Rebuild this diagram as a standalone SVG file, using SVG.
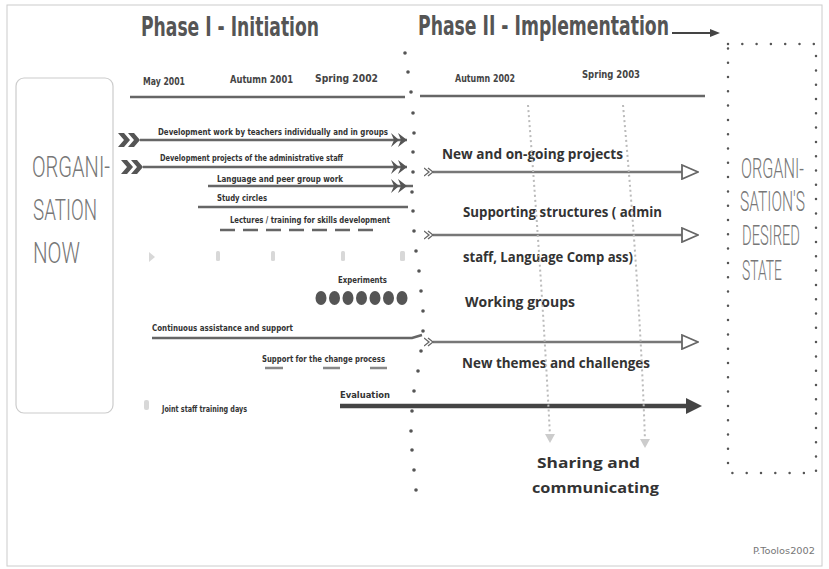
<svg xmlns="http://www.w3.org/2000/svg" width="829" height="569" viewBox="0 0 829 569">
<defs>
<style>
.hdr{font-family:'DejaVu Sans Condensed','DejaVu Sans',sans-serif;font-weight:bold;font-size:27px;fill:#555}
.date{font-family:'DejaVu Sans Condensed','DejaVu Sans',sans-serif;font-weight:bold;font-size:11px;fill:#444}
.sm{font-family:'DejaVu Sans Condensed','DejaVu Sans',sans-serif;font-weight:bold;font-size:9px;fill:#333}
.big{font-family:'Open Sans','DejaVu Sans',sans-serif;font-weight:bold;font-size:15px;fill:#333}
.org{font-family:Roboto,'DejaVu Sans',sans-serif;font-weight:300;font-size:29px;fill:#777}
.org2{font-family:Roboto,'DejaVu Sans',sans-serif;font-weight:300;font-size:15px;fill:#777}
.sig{font-family:'DejaVu Sans Condensed','DejaVu Sans',sans-serif;font-size:9px;fill:#777}
.bar{stroke:#666;stroke-width:2.5;fill:none}
.rbar{stroke:#777;stroke-width:2.5;fill:none}
.gcurve{stroke:#bbb;stroke-width:2;fill:none;stroke-dasharray:2 3}
.faint{fill:#d8d8d8}
.dot{fill:#555}
</style>
<marker id="fl" viewBox="0 0 22 14" refX="22" refY="7" markerWidth="22" markerHeight="14" markerUnits="userSpaceOnUse" orient="auto">
<path d="M0,0 L6,0 L12,7 L6,14 L0,14 L6,7 Z M10,0 L16,0 L22,7 L16,14 L10,14 L16,7 Z" fill="#555"/>
</marker>
<marker id="dbl" viewBox="0 0 16 14" refX="16" refY="7" markerWidth="16" markerHeight="14" markerUnits="userSpaceOnUse" orient="auto">
<path d="M0,0 L8,7 L0,14 L3,7 Z M7,0 L16,7 L7,14 L10,7 Z" fill="#555"/>
</marker>
<marker id="fl2" viewBox="0 0 10 10" refX="9" refY="5" markerWidth="10" markerHeight="10" markerUnits="userSpaceOnUse" orient="auto">
<path d="M0,1 L5,5 L0,9 M4,1 L9,5 L4,9" fill="none" stroke="#666" stroke-width="1.3"/>
</marker>
<marker id="tri" viewBox="0 0 18 16" refX="1" refY="8" markerWidth="18" markerHeight="16" markerUnits="userSpaceOnUse" orient="auto">
<path d="M1,1 L17,8 L1,15 Z" fill="#fff" stroke="#666" stroke-width="1.8"/>
</marker>
<marker id="bigA" viewBox="0 0 16 16" refX="1" refY="8" markerWidth="16" markerHeight="16" markerUnits="userSpaceOnUse" orient="auto">
<path d="M0,0 L16,8 L0,16 Z" fill="#444"/>
</marker>
<marker id="smA" viewBox="0 0 10 8" refX="1" refY="4" markerWidth="10" markerHeight="8" markerUnits="userSpaceOnUse" orient="auto">
<path d="M0,0 L10,4 L0,8 Z" fill="#444"/>
</marker>
<marker id="gA" viewBox="0 0 10 10" refX="5" refY="2" markerWidth="10" markerHeight="10" markerUnits="userSpaceOnUse" orient="0">
<path d="M0,0 L10,0 L5,9 Z" fill="#ccc"/>
</marker>
</defs>
<rect width="829" height="569" fill="#fff"/>
<rect x="7" y="5" width="815" height="561" fill="none" stroke="#ccc" stroke-width="1"/>

<g id="header-phase1"><text class="hdr" x="141" y="36" textLength="178" lengthAdjust="spacingAndGlyphs">Phase I - Initiation</text></g>
<g id="header-phase2"><text class="hdr" x="418" y="35" textLength="251" lengthAdjust="spacingAndGlyphs">Phase II - Implementation</text></g>

<g id="dates">
<text class="date" x="143" y="85" textLength="42" lengthAdjust="spacingAndGlyphs">May 2001</text>
<text class="date" x="230" y="83" textLength="63" lengthAdjust="spacingAndGlyphs">Autumn 2001</text>
<text class="date" x="315" y="82" textLength="63" lengthAdjust="spacingAndGlyphs">Spring 2002</text>
<text class="date" x="455" y="82" textLength="60" lengthAdjust="spacingAndGlyphs">Autumn 2002</text>
<text class="date" x="582" y="78" textLength="58" lengthAdjust="spacingAndGlyphs">Spring 2003</text>
</g>

<g id="org-now">
<rect x="16" y="78" width="97" height="335" rx="8" fill="none" stroke="#ccc" stroke-width="1.2"/>
<text class="org" x="32" y="177" textLength="78" lengthAdjust="spacingAndGlyphs">ORGANI-</text>
<text class="org" x="33" y="220" textLength="64" lengthAdjust="spacingAndGlyphs">SATION</text>
<text class="org" x="33" y="263" textLength="47" lengthAdjust="spacingAndGlyphs">NOW</text>
</g>

<g id="org-desired">
<rect x="728" y="44" width="88" height="429" fill="none" stroke="#555" stroke-width="2.5" stroke-linecap="round" stroke-dasharray="0 14.3"/>
<text class="org2" transform="translate(741,178) scale(1,1.85)" x="0" y="0" textLength="63" lengthAdjust="spacingAndGlyphs">ORGANI-</text>
<text class="org2" transform="translate(740,211) scale(1,1.85)" x="0" y="0" textLength="65" lengthAdjust="spacingAndGlyphs">SATION'S</text>
<text class="org2" transform="translate(742,245) scale(1,1.85)" x="0" y="0" textLength="58" lengthAdjust="spacingAndGlyphs">DESIRED</text>
<text class="org2" transform="translate(742,280) scale(1,1.85)" x="0" y="0" textLength="40" lengthAdjust="spacingAndGlyphs">STATE</text>
</g>

<g id="divider">
<circle class="dot" cx="405" cy="53" r="1.8"/><circle class="dot" cx="408" cy="72" r="1.8"/><circle class="dot" cx="411" cy="92" r="1.8"/>
<circle class="dot" cx="413" cy="113" r="1.8"/><circle class="dot" cx="414" cy="133" r="1.8"/><circle class="dot" cx="413" cy="152" r="1.8"/>
<circle class="dot" cx="413" cy="172" r="1.8"/><circle class="dot" cx="412" cy="192" r="1.8"/><circle class="dot" cx="413" cy="211" r="1.8"/>
<circle class="dot" cx="414" cy="231" r="1.8"/><circle class="dot" cx="416" cy="251" r="1.8"/><circle class="dot" cx="419" cy="271" r="1.8"/>
<circle class="dot" cx="421" cy="291" r="1.8"/><circle class="dot" cx="423" cy="311" r="1.8"/><circle class="dot" cx="423" cy="331" r="1.8"/>
<circle class="dot" cx="421" cy="351" r="1.8"/><circle class="dot" cx="418" cy="371" r="1.8"/><circle class="dot" cx="414" cy="391" r="1.8"/>
<circle class="dot" cx="412" cy="411" r="1.8"/><circle class="dot" cx="411" cy="431" r="1.8"/><circle class="dot" cx="412" cy="450" r="1.8"/>
<circle class="dot" cx="414" cy="470" r="1.8"/><circle class="dot" cx="416" cy="490" r="1.8"/>
</g>

<g id="phase1-items">
<text class="sm" x="158" y="135" textLength="230" lengthAdjust="spacingAndGlyphs">Development work by teachers individually and in groups</text>
<text class="sm" x="160" y="161" textLength="183" lengthAdjust="spacingAndGlyphs">Development projects of the administrative staff</text>
<text class="sm" x="217" y="182" textLength="126" lengthAdjust="spacingAndGlyphs">Language and peer group work</text>
<text class="sm" x="217" y="201" textLength="50" lengthAdjust="spacingAndGlyphs">Study circles</text>
<text class="sm" x="230" y="223" textLength="160" lengthAdjust="spacingAndGlyphs">Lectures / training for skills development</text>
<text class="sm" x="338" y="283" textLength="49" lengthAdjust="spacingAndGlyphs">Experiments</text>
<g id="experiments-dots" fill="#555">
<ellipse cx="321" cy="298" rx="5.5" ry="7"/><ellipse cx="334.5" cy="298" rx="5.5" ry="7"/><ellipse cx="348" cy="298" rx="5.5" ry="7"/>
<ellipse cx="361.5" cy="298" rx="5.5" ry="7"/><ellipse cx="375" cy="298" rx="5.5" ry="7"/><ellipse cx="388.5" cy="298" rx="5.5" ry="7"/>
<ellipse cx="402" cy="298" rx="5.5" ry="7"/>
</g>
<text class="sm" x="152" y="331" textLength="141" lengthAdjust="spacingAndGlyphs">Continuous  assistance and support</text>
<text class="sm" x="262" y="362" textLength="123" lengthAdjust="spacingAndGlyphs">Support for the change process</text>
<text class="sm" x="340" y="398" textLength="50" lengthAdjust="spacingAndGlyphs">Evaluation</text>
<text class="sm" x="162" y="412" textLength="85" lengthAdjust="spacingAndGlyphs">Joint staff training days</text>
<g id="faint-marks">
<path class="faint" d="M149,252 L155,257 L149,262 Z"/>
<rect class="faint" x="216" y="251" width="4" height="10" rx="1.5"/>
<rect class="faint" x="271" y="251" width="4" height="10" rx="1.5"/>
<rect class="faint" x="341" y="251" width="4" height="10" rx="1.5"/>
<rect class="faint" x="400" y="251" width="5" height="10" rx="1.5"/>
<rect class="faint" x="144" y="400" width="5" height="10" rx="2"/>
</g>
</g>

<g id="phase2-items">
<text class="big" x="442" y="159" textLength="181" lengthAdjust="spacingAndGlyphs">New and on-going projects</text>
<text class="big" x="463" y="217" textLength="199" lengthAdjust="spacingAndGlyphs">Supporting structures ( admin</text>
<text class="big" x="463" y="262" textLength="170" lengthAdjust="spacingAndGlyphs">staff, Language Comp ass)</text>
<text class="big" x="465" y="307" textLength="110" lengthAdjust="spacingAndGlyphs">Working  groups</text>
<text class="big" x="462" y="368" textLength="188" lengthAdjust="spacingAndGlyphs">New themes and challenges</text>
<text class="big" x="537" y="468" font-size="16" textLength="103" lengthAdjust="spacingAndGlyphs">Sharing and</text>
<text class="big" x="532" y="493" font-size="16" textLength="127" lengthAdjust="spacingAndGlyphs">communicating</text>
</g>

<g id="signature"><text class="sig" x="753" y="554" textLength="62" lengthAdjust="spacingAndGlyphs">P.Toolos2002</text></g>

<g id="connectors">
<path d="M672,33 L711,33" stroke="#444" stroke-width="2" marker-end="url(#smA)"/>
<path class="bar" d="M130,97 L405,97" stroke-width="3"/>
<path class="bar" d="M420,96 L705,96" stroke-width="3"/>
<path class="bar" d="M140,140 L407,140" marker-start="url(#fl)" marker-end="url(#dbl)"/>
<path class="bar" d="M143,167 L407,167" marker-start="url(#fl)" marker-end="url(#dbl)"/>
<path class="bar" d="M208,186 L407,186" marker-end="url(#dbl)"/>
<path class="bar" d="M407,186 L413,186"/>
<path class="bar" d="M198,207 L408,207"/>
<path class="bar" d="M220,230 L378,230" stroke-width="3" stroke-dasharray="15 8"/>
<path class="bar" d="M152,338 L412,338 L422,335"/>
<path d="M265,368 L283,368 M323,368 L340,368 M370,368 L387,368" stroke="#888" stroke-width="2.5"/>
<path d="M340,406 L687,406" stroke="#444" stroke-width="4.5" marker-end="url(#bigA)"/>
<path class="rbar" d="M433,172 L682,172" marker-start="url(#fl2)" marker-end="url(#tri)"/>
<path class="rbar" d="M433,235 L682,235" marker-start="url(#fl2)" marker-end="url(#tri)"/>
<path class="rbar" d="M433,342 L682,342" marker-start="url(#fl2)" marker-end="url(#tri)"/>
<path class="gcurve" d="M528,105 Q542,280 550,436" marker-end="url(#gA)"/>
<path class="gcurve" d="M623,105 Q640,290 645,441" marker-end="url(#gA)"/>
</g>
</svg>
